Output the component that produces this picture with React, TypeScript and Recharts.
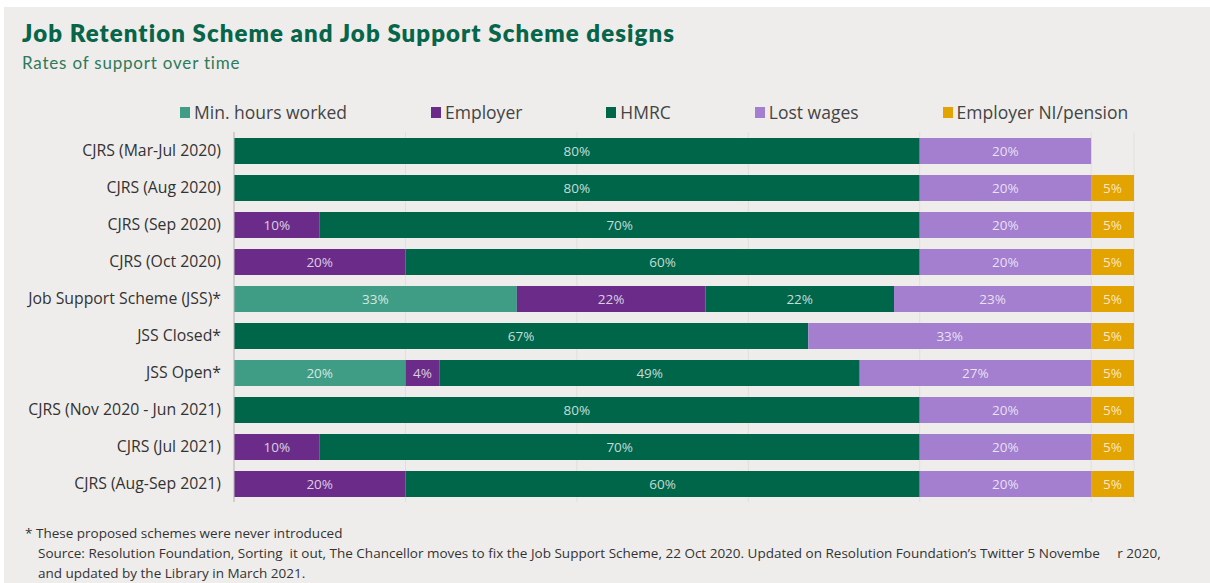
import React from 'react';
import { BarChart, Bar, XAxis, YAxis, CartesianGrid, LabelList } from 'recharts';

const categories = [
  'CJRS (Mar-Jul 2020)',
  'CJRS (Aug 2020)',
  'CJRS (Sep 2020)',
  'CJRS (Oct 2020)',
  'Job Support Scheme (JSS)*',
  'JSS Closed*',
  'JSS Open*',
  'CJRS (Nov 2020 - Jun 2021)',
  'CJRS (Jul 2021)',
  'CJRS (Aug-Sep 2021)',
];
const minHoursWorked = [null, null, null, null, 33, null, 20, null, null, null];
const employer = [null, null, 10, 20, 22, null, 4, null, 10, 20];
const hmrc = [80, 80, 70, 60, 22, 67, 49, 80, 70, 60];
const lostWages = [20, 20, 20, 20, 23, 33, 27, 20, 20, 20];
const employerNI = [null, 5, 5, 5, 5, 5, 5, 5, 5, 5];
const xTicks = [0, 20, 40, 60, 80, 100];

const series = [
  { key: 'minHours', name: 'Min. hours worked', color: '#3f9d85', values: minHoursWorked },
  { key: 'employer', name: 'Employer', color: '#6a2c88', values: employer },
  { key: 'hmrc', name: 'HMRC', color: '#00664a', values: hmrc },
  { key: 'lostWages', name: 'Lost wages', color: '#a47ecf', values: lostWages },
  { key: 'employerNI', name: 'Employer NI/pension', color: '#e3a300', values: employerNI },
];

const data = categories.map((c, i) => {
  const row: any = { category: c };
  series.forEach((s) => {
    row[s.key] = s.values[i];
  });
  return row;
});

const renderLabel = (props: any) => {
  const { x, y, width, height, value } = props;
  if (value === null || value === undefined || value === 0) return null;
  return (
    <text
      x={Number(x) + Number(width) / 2}
      y={Number(y) + Number(height) / 2 + 1}
      textAnchor="middle"
      dominantBaseline="middle"
      fill="#ffffff"
      fillOpacity={0.78}
      fontSize={13.5}
      fontFamily="'Open Sans', sans-serif"
    >
      {value}%
    </text>
  );
};

const LegendBlock = () => (
  <div
    style={{
      position: 'absolute',
      top: 100,
      left: 180,
      display: 'flex',
      gap: 84,
      fontFamily: "'Open Sans', sans-serif",
      fontSize: 17.5,
      color: '#444',
      alignItems: 'center',
      whiteSpace: 'nowrap',
    }}
  >
    {series.map((s) => (
      <div key={s.key} style={{ display: 'flex', alignItems: 'center' }}>
        <span style={{ display: 'inline-block', width: 10, height: 11, background: s.color, marginRight: 4 }} />
        <span>{s.name}</span>
      </div>
    ))}
  </div>
);

export default function App() {
  return (
    <div
      style={{
        position: 'absolute',
        left: 0,
        top: 0,
        width: 1210,
        height: 583,
        background: '#ffffff',
        overflow: 'hidden',
      }}
    >
      <div
        style={{
          position: 'absolute',
          left: 4,
          top: 7,
          width: 1206,
          height: 576,
          background: '#efedeb',
        }}
      />
      <div
        style={{
          position: 'absolute',
          left: 22,
          top: 18,
          fontFamily: 'Lato, sans-serif',
          fontWeight: 800,
          fontSize: 24,
          letterSpacing: 1.08,
          color: '#07654a',
          whiteSpace: 'nowrap',
        }}
      >
        Job Retention Scheme and Job Support Scheme designs
      </div>
      <div
        style={{
          position: 'absolute',
          left: 22,
          top: 52,
          fontFamily: 'Lato, sans-serif',
          fontSize: 17,
          letterSpacing: 0.8,
          color: '#2e7a5a',
          whiteSpace: 'nowrap',
        }}
      >
        Rates of support over time
      </div>
      <LegendBlock />
      <div style={{ position: 'absolute', left: 0, top: 0 }}>
        <BarChart
          width={1210}
          height={583}
          data={data}
          layout="vertical"
          margin={{ top: 132, right: 76, bottom: 81, left: 0 }}
          barSize={26}
        >
          <CartesianGrid horizontal={false} vertical={true} stroke="#e2dfdb" />
          <XAxis type="number" domain={[0, 105]} ticks={xTicks} hide />
          <YAxis
            type="category"
            dataKey="category"
            width={234}
            tickLine={false}
            tickSize={0}
            tickMargin={13}
            axisLine={{ stroke: '#b9b9b9' }}
            tick={{ fill: '#333', fontSize: 15.8, fontFamily: "'Open Sans', sans-serif" }}
            interval={0}
          />
          {series.map((s) => (
            <Bar key={s.key} dataKey={s.key} name={s.name} stackId="a" fill={s.color} isAnimationActive={false}>
              <LabelList dataKey={s.key} content={renderLabel} />
            </Bar>
          ))}
        </BarChart>
      </div>
      <div
        style={{
          position: 'absolute',
          left: 25,
          top: 524,
          fontFamily: "'Open Sans', sans-serif",
          fontSize: 13.5,
          color: '#333',
          whiteSpace: 'nowrap',
        }}
      >
        * These proposed schemes were never introduced
      </div>
      <div
        style={{
          position: 'absolute',
          left: 38,
          top: 543,
          fontFamily: "'Open Sans', sans-serif",
          fontSize: 13.5,
          lineHeight: '20px',
          color: '#333',
          whiteSpace: 'nowrap',
        }}
      >
        <div>
          Source: Resolution Foundation, Sorting&nbsp; it out, The Chancellor moves to fix the Job Support Scheme, 22 Oct 2020. Updated on Resolution Foundation’s Twitter 5 Novembe&nbsp;&nbsp;&nbsp;&nbsp; r 2020,
        </div>
        <div>and updated by the Library in March 2021.</div>
      </div>
    </div>
  );
}
